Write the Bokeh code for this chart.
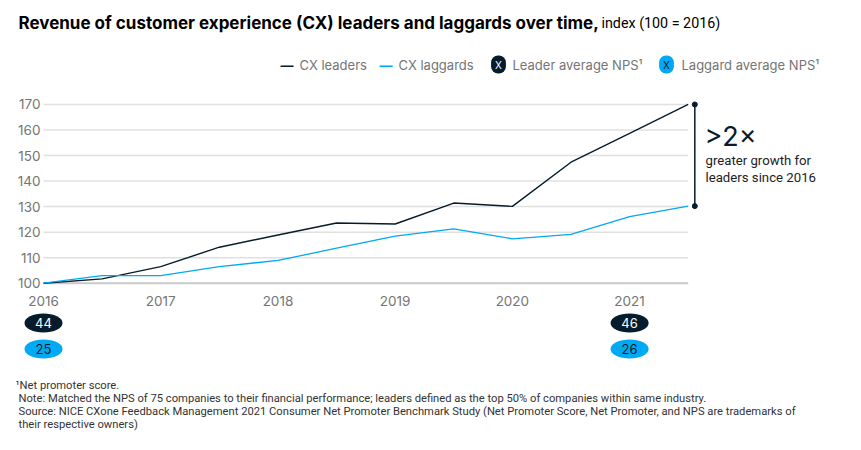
from bokeh.plotting import figure
from bokeh.models import Range1d, FixedTicker, Label
from bokeh.core.properties import value
from bokeh.embed import file_html
from bokeh.resources import INLINE

# half-year index values (100 = 2016)
periods = [2016.0, 2016.5, 2017.0, 2017.5, 2018.0, 2018.5,
           2019.0, 2019.5, 2020.0, 2020.5, 2021.0, 2021.5]
leaders = [100, 101.7, 106.5, 114.1, 118.9, 123.6, 123.2, 131.4, 130.1, 147.4, 158.7, 170]
laggards = [100, 103.0, 103.0, 106.5, 108.9, 113.7, 118.4, 121.3, 117.4, 119.1, 126.1, 130.2]

year_ticks = [2016, 2017, 2018, 2019, 2020, 2021]
value_ticks = [100, 110, 120, 130, 140, 150, 160, 170]

nps_years = [2016, 2021]
leader_nps = [44, 46]
laggard_nps = [25, 26]

NAVY = "#051C2C"
CYAN = "#00A9F4"
GREY = "#757575"

W, H = 845, 434

# the frame fills the whole canvas so nothing gets clipped;
# scales chosen so 2016 sits at x=43 and 100..170 spans y=283..104
px_per_year = 117.22
px_per_unit = 2.553
x0 = 2016 - 43 / px_per_year
x1 = x0 + W / px_per_year
y0 = 100 - (H - 282.7) / px_per_unit
y1 = y0 + H / px_per_unit

p = figure(width=W, height=H, output_backend="svg", toolbar_location=None,
           x_range=Range1d(x0, x1), y_range=Range1d(y0, y1), min_border=0)
p.title.visible = False
p.outline_line_color = None
p.grid.visible = False

# axes pinned inside the frame
p.xaxis.fixed_location = 100
p.xaxis.ticker = FixedTicker(ticks=year_ticks)
p.yaxis.fixed_location = 2016
p.yaxis.ticker = FixedTicker(ticks=value_ticks)
for ax in (p.xaxis, p.yaxis):
    ax.axis_line_color = None
    ax.major_tick_line_color = None
    ax.minor_tick_line_color = None
    ax.major_tick_out = 0
    ax.major_label_text_color = GREY
    ax.major_label_text_font = "Inter"
    ax.major_label_text_font_size = "13.5px"
p.xaxis.major_label_standoff = 13
p.yaxis.major_label_standoff = 3

# gridlines only across the data span
grid_y = value_ticks[1:]
p.segment(x0=[periods[0]] * len(grid_y), y0=grid_y, x1=[periods[-1]] * len(grid_y), y1=grid_y,
          line_color="#e0e0e0", line_width=1.5)
p.segment(x0=[periods[0]], y0=[value_ticks[0]], x1=[periods[-1]], y1=[value_ticks[0]],
          line_color="#c9c9c9", line_width=2)

p.line(periods, leaders, line_color=NAVY, line_width=1.4)
p.line(periods, laggards, line_color=CYAN, line_width=1.3)

# bracket showing the gap at the end
bx = periods[-1] + 6.6 / px_per_year
p.segment(x0=[bx], y0=[laggards[-1]], x1=[bx], y1=[leaders[-1]], line_color=NAVY, line_width=1.5)
p.scatter([bx, bx], [laggards[-1], leaders[-1]], size=5, color=NAVY)

# NPS pills under the axis
pill_w, pill_h = 38, 19
for vals, yrow, fill, txt in ((leader_nps, 84.4, NAVY, "white"), (laggard_nps, 74.2, CYAN, NAVY)):
    p.ellipse(x=nps_years, y=[yrow] * len(vals), width=pill_w, height=pill_h,
              width_units="screen", height_units="screen", fill_color=fill, line_color=None)
    p.text(x=nps_years, y=[yrow] * len(vals), text=[str(v) for v in vals],
           text_align="center", text_baseline="middle", text_color=txt,
           text_font=value("Inter"), text_font_size=value("13px"))


def note(text, px, py, size, color, bold=False, align="left", font="Inter", **kw):
    # px, py: pixel position from the top-left of the chart
    p.add_layout(Label(x=px, y=H - py, x_units="screen", y_units="screen", text=text,
                       text_font=font, text_font_size=f"{size}px", text_color=color,
                       text_font_style="bold" if bold else "normal",
                       text_align=align, text_baseline="middle", **kw))


# title
note("Revenue of customer experience (CX) leaders and laggards over time,", 18, 22, 17, "#000000", bold=True)
note("index (100 = 2016)", 601, 22, 14.3, "#000000", font="Roboto")

# legend
note("\u2014", 280, 64, 13, NAVY, bold=True)
note("CX leaders", 299, 64, 13, GREY)
note("\u2014", 379, 64, 13, CYAN, bold=True)
note("CX laggards", 398, 64, 13, GREY)
note("X", 498, 64, 10, "white", align="center", background_fill_color=NAVY,
     border_radius=7, padding=dict(x=4, y=3))
note("Leader average NPS\u00b9", 512, 64, 13, GREY)
note("X", 666, 64, 10, NAVY, align="center", background_fill_color=CYAN,
     border_radius=7, padding=dict(x=4, y=3))
note("Laggard average NPS\u00b9", 681, 64, 13, GREY)

# callout
note(">2\u00d7", 704, 136, 27, NAVY)
note("greater growth for", 705, 160, 13.2, "#222222", font="Roboto")
note("leaders since 2016", 705, 177, 13.2, "#222222", font="Roboto")

# footer
foot = "#333333"
fsize = 11.2
note("\u00b9Net promoter score.", 15, 385, fsize, foot, font="Roboto")
note("Note: Matched the NPS of 75 companies to their financial performance; leaders defined as the top 50% "
     "of companies within same industry.", 18, 398, fsize, foot, font="Roboto")
note("Source: NICE CXone Feedback Management 2021 Consumer Net Promoter Benchmark Study (Net Promoter "
     "Score, Net Promoter, and NPS are trademarks of", 18, 411, fsize, foot, font="Roboto")
note("their respective owners)", 18, 424, fsize, foot, font="Roboto")

open("out.html", "w").write(file_html(p, INLINE))
